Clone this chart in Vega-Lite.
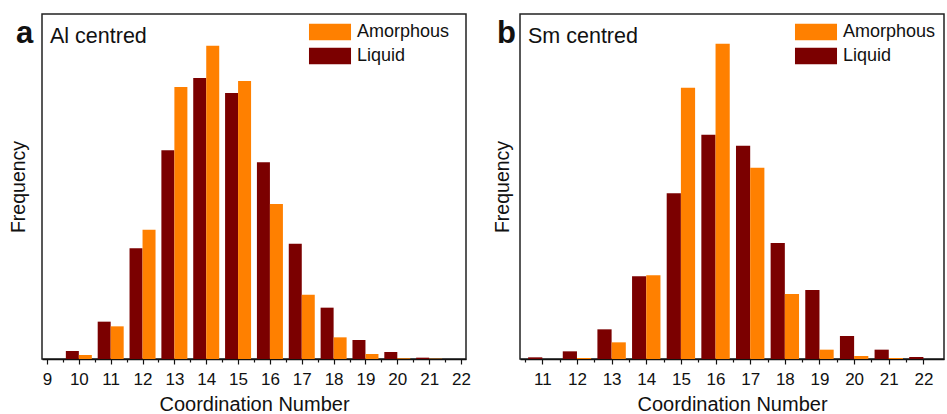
{
  "$schema": "https://vega.github.io/schema/vega-lite/v6.json",
  "padding": {"left": 7, "top": 13, "right": 0, "bottom": 0},
  "spacing": 19,
  "config": {
    "font": "Liberation Sans",
    "view": {"stroke": "#222222", "strokeWidth": 1.5},
    "axis": {"grid": false, "labelColor": "#111111", "titleColor": "#111111", "titleFontWeight": "normal", "labelFont": "Liberation Sans", "titleFont": "Liberation Sans"},
    "legend": {"padding": 0}
  },
  "datasets": {
    "al": [
      {"cn": 10, "phase": "Liquid", "freq": 24}, {"cn": 10, "phase": "Amorphous", "freq": 12},
      {"cn": 11, "phase": "Liquid", "freq": 112}, {"cn": 11, "phase": "Amorphous", "freq": 98},
      {"cn": 12, "phase": "Liquid", "freq": 332}, {"cn": 12, "phase": "Amorphous", "freq": 388},
      {"cn": 13, "phase": "Liquid", "freq": 626}, {"cn": 13, "phase": "Amorphous", "freq": 816},
      {"cn": 14, "phase": "Liquid", "freq": 843}, {"cn": 14, "phase": "Amorphous", "freq": 940},
      {"cn": 15, "phase": "Liquid", "freq": 798}, {"cn": 15, "phase": "Amorphous", "freq": 834},
      {"cn": 16, "phase": "Liquid", "freq": 590}, {"cn": 16, "phase": "Amorphous", "freq": 465},
      {"cn": 17, "phase": "Liquid", "freq": 346}, {"cn": 17, "phase": "Amorphous", "freq": 193},
      {"cn": 18, "phase": "Liquid", "freq": 154}, {"cn": 18, "phase": "Amorphous", "freq": 65},
      {"cn": 19, "phase": "Liquid", "freq": 57}, {"cn": 19, "phase": "Amorphous", "freq": 15},
      {"cn": 20, "phase": "Liquid", "freq": 21}, {"cn": 20, "phase": "Amorphous", "freq": 2},
      {"cn": 21, "phase": "Liquid", "freq": 4}, {"cn": 21, "phase": "Amorphous", "freq": 1}
    ],
    "sm": [
      {"cn": 11, "phase": "Liquid", "freq": 5}, {"cn": 11, "phase": "Amorphous", "freq": 0},
      {"cn": 12, "phase": "Liquid", "freq": 23}, {"cn": 12, "phase": "Amorphous", "freq": 3},
      {"cn": 13, "phase": "Liquid", "freq": 89}, {"cn": 13, "phase": "Amorphous", "freq": 50},
      {"cn": 14, "phase": "Liquid", "freq": 248}, {"cn": 14, "phase": "Amorphous", "freq": 251},
      {"cn": 15, "phase": "Liquid", "freq": 497}, {"cn": 15, "phase": "Amorphous", "freq": 814},
      {"cn": 16, "phase": "Liquid", "freq": 673}, {"cn": 16, "phase": "Amorphous", "freq": 946},
      {"cn": 17, "phase": "Liquid", "freq": 640}, {"cn": 17, "phase": "Amorphous", "freq": 574},
      {"cn": 18, "phase": "Liquid", "freq": 348}, {"cn": 18, "phase": "Amorphous", "freq": 195},
      {"cn": 19, "phase": "Liquid", "freq": 207}, {"cn": 19, "phase": "Amorphous", "freq": 28},
      {"cn": 20, "phase": "Liquid", "freq": 69}, {"cn": 20, "phase": "Amorphous", "freq": 9},
      {"cn": 21, "phase": "Liquid", "freq": 28}, {"cn": 21, "phase": "Amorphous", "freq": 3},
      {"cn": 22, "phase": "Liquid", "freq": 6}, {"cn": 22, "phase": "Amorphous", "freq": 0}
    ]
  },
  "resolve": {"legend": {"color": "independent"}},
  "hconcat": [
    {
      "width": 424,
      "height": 345,
      "layer": [
        {
          "data": {"name": "al"},
          "transform": [{"filter": "datum.phase == 'Liquid'"}],
          "mark": {"type": "bar", "width": 13, "xOffset": -6.5},
          "encoding": {
            "x": {"field": "cn", "type": "quantitative", "scale": {"domain": [9, 22], "nice": false, "zero": false},
              "axis": {"values": [9, 9.5, 10, 10.5, 11, 11.5, 12, 12.5, 13, 13.5, 14, 14.5, 15, 15.5, 16, 16.5, 17, 17.5, 18, 18.5, 19, 19.5, 20, 20.5, 21, 21.5, 22],
                "tickCount": 60,
                "labelOverlap": false,
                "labelExpr": "datum.value % 1 ? '' : format(datum.value, 'd')",
                "tickSize": {"condition": {"test": "datum.value % 1 != 0", "value": 3}, "value": 5},
                "tickColor": "#111111", "tickWidth": 1.2, "domainColor": "#111111", "domainWidth": 1.5,
                "labelFontSize": 17, "labelPadding": 7, "labelFlush": false,
                "title": "Coordination Number", "titleFontSize": 20, "titlePadding": 7}},
            "y": {"field": "freq", "type": "quantitative", "scale": {"domain": [0, 1035], "nice": false},
              "axis": {"title": "Frequency", "labels": false, "ticks": false, "domain": false, "titleFontSize": 19.5, "titlePadding": 14}},
            "color": {"field": "phase", "type": "nominal",
              "scale": {"domain": ["Amorphous", "Liquid"], "range": ["#FF8000", "#7B0000"]},
              "legend": {"title": null, "orient": "none", "legendX": 279, "legendY": 9,
                "symbolType": "M-2.53,-1H2.53V1H-2.53Z", "symbolSize": 276, "symbolStrokeWidth": 0, "symbolOpacity": 1,
                "labelFontSize": 18, "labelOffset": 18, "rowPadding": 6, "labelColor": "#111111"}}
          }
        },
        {
          "data": {"name": "al"},
          "transform": [{"filter": "datum.phase == 'Amorphous'"}],
          "mark": {"type": "bar", "width": 13, "xOffset": 6.5},
          "encoding": {
            "x": {"field": "cn", "type": "quantitative"},
            "y": {"field": "freq", "type": "quantitative"},
            "color": {"field": "phase", "type": "nominal"}
          }
        },
        {
          "data": {"values": [{}]},
          "mark": {"type": "text", "text": "Al centred", "align": "left", "baseline": "alphabetic", "fontSize": 21.5, "dx": 3, "dy": 29, "color": "#111111"},
          "encoding": {"x": {"datum": 9}, "y": {"datum": 1035}}
        },
        {
          "data": {"values": [{}]},
          "mark": {"type": "text", "text": "a", "align": "left", "baseline": "alphabetic", "fontSize": 31, "fontWeight": "bold", "dx": -31, "dy": 29, "color": "#111111"},
          "encoding": {"x": {"datum": 9}, "y": {"datum": 1035}}
        }
      ]
    },
    {
      "width": 424,
      "height": 345,
      "layer": [
        {
          "data": {"name": "sm"},
          "transform": [{"filter": "datum.phase == 'Liquid'"}],
          "mark": {"type": "bar", "width": 14.2, "xOffset": -7.1},
          "encoding": {
            "x": {"field": "cn", "type": "quantitative", "scale": {"domain": [10.5, 22.45], "nice": false, "zero": false},
              "axis": {"values": [10.5, 11, 11.5, 12, 12.5, 13, 13.5, 14, 14.5, 15, 15.5, 16, 16.5, 17, 17.5, 18, 18.5, 19, 19.5, 20, 20.5, 21, 21.5, 22],
                "tickCount": 60,
                "labelOverlap": false,
                "labelExpr": "datum.value % 1 ? '' : format(datum.value, 'd')",
                "tickSize": {"condition": {"test": "datum.value % 1 != 0", "value": 3}, "value": 5},
                "tickColor": "#111111", "tickWidth": 1.2, "domainColor": "#111111", "domainWidth": 1.5,
                "labelFontSize": 17, "labelPadding": 7, "labelFlush": false,
                "title": "Coordination Number", "titleFontSize": 20, "titlePadding": 7}},
            "y": {"field": "freq", "type": "quantitative", "scale": {"domain": [0, 1035], "nice": false},
              "axis": {"title": "Frequency", "labels": false, "ticks": false, "domain": false, "titleFontSize": 19.5, "titlePadding": 8}},
            "color": {"field": "phase", "type": "nominal",
              "scale": {"domain": ["Amorphous", "Liquid"], "range": ["#FF8000", "#7B0000"]},
              "legend": {"title": null, "orient": "none", "legendX": 287, "legendY": 9,
                "symbolType": "M-2.53,-1H2.53V1H-2.53Z", "symbolSize": 276, "symbolStrokeWidth": 0, "symbolOpacity": 1,
                "labelFontSize": 18, "labelOffset": 18, "rowPadding": 6, "labelColor": "#111111"}}
          }
        },
        {
          "data": {"name": "sm"},
          "transform": [{"filter": "datum.phase == 'Amorphous'"}],
          "mark": {"type": "bar", "width": 14.2, "xOffset": 7.1},
          "encoding": {
            "x": {"field": "cn", "type": "quantitative"},
            "y": {"field": "freq", "type": "quantitative"},
            "color": {"field": "phase", "type": "nominal"}
          }
        },
        {
          "data": {"values": [{}]},
          "mark": {"type": "text", "text": "Sm centred", "align": "left", "baseline": "alphabetic", "fontSize": 21.5, "dx": 3, "dy": 29, "color": "#111111"},
          "encoding": {"x": {"datum": 10.5}, "y": {"datum": 1035}}
        },
        {
          "data": {"values": [{}]},
          "mark": {"type": "text", "text": "b", "align": "left", "baseline": "alphabetic", "fontSize": 31, "fontWeight": "bold", "dx": -28, "dy": 29, "color": "#111111"},
          "encoding": {"x": {"datum": 10.5}, "y": {"datum": 1035}}
        }
      ]
    }
  ]
}
